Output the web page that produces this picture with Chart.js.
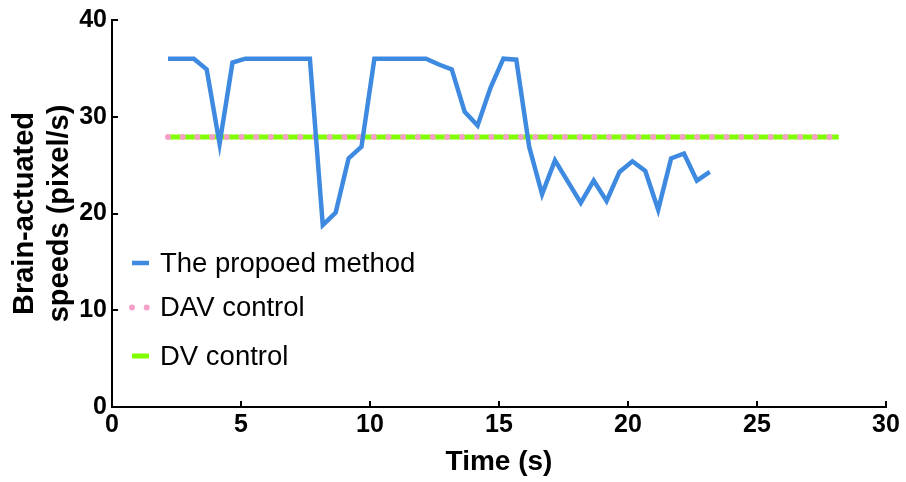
<!DOCTYPE html>
<html>
<head>
<meta charset="utf-8">
<script src="https://cdn.jsdelivr.net/npm/chart.js@4/dist/chart.umd.min.js"></script>
<style>
  html, body { margin: 0; padding: 0; background: #fff; }
  #wrap { width: 906px; height: 482px; }
</style>
</head>
<body>
<div id="wrap"><canvas id="c" width="906" height="482"></canvas></div>
<script>
// Sample times (s) and brain-actuated speed (pixel/s) of the proposed method
const times = [2.17, 2.67, 3.17, 3.67, 4.17, 4.67, 5.17, 5.67, 6.17, 6.67, 7.17, 7.67,
  8.17, 8.67, 9.17, 9.67, 10.17, 10.67, 11.17, 11.67, 12.17, 12.67, 13.17, 13.67,
  14.17, 14.67, 15.17, 15.67, 16.17, 16.67, 17.17, 17.67, 18.17, 18.67, 19.17, 19.67,
  20.17, 20.67, 21.17, 21.67, 22.17, 22.67, 23.17];
const speeds = [36, 36, 36, 34.9, 27.2, 35.6, 36, 36, 36, 36, 36, 36,
  18.8, 20.1, 25.7, 26.9, 36, 36, 36, 36, 36, 35.4, 34.9, 30.5,
  29.1, 33.0, 36.0, 35.9, 26.9, 22.0, 25.5, 23.3, 21.1, 23.4, 21.3, 24.3,
  25.4, 24.4, 20.4, 25.7, 26.2, 23.4, 24.3];

// Constant-speed reference controls
const davTimes = [2.17, 28.17];
const davSpeeds = [27.9, 27.9];
const dvTimes = [2.17, 28.17];
const dvSpeeds = [27.9, 27.9];

const seriesLabels = ['The propoed method', 'DAV control', 'DV control'];
const xTitle = 'Time (s)';
const yTitle = ['Brain-actuated', 'speeds (pixel/s)'];

const BLUE = 'rgb(62,138,224)';
const PINK = 'rgb(246,160,200)';
const GREEN = 'rgb(128,255,0)';
const FONT = '"Liberation Sans", Arial, sans-serif';

const pts = (xs, ys) => xs.map((x, i) => ({ x: x, y: ys[i] }));

// Tick marks pointing into the plot area
const inwardTicks = {
  id: 'inwardTicks',
  afterDraw(chart) {
    const ctx = chart.ctx;
    const { x, y } = chart.scales;
    const len = 6;
    ctx.save();
    ctx.strokeStyle = '#000';
    ctx.lineWidth = 2;
    ctx.beginPath();
    x.ticks.forEach(t => {
      const px = Math.round(x.getPixelForValue(t.value));
      ctx.moveTo(px, y.bottom);
      ctx.lineTo(px, y.bottom - len);
    });
    y.ticks.forEach(t => {
      const py = Math.round(y.getPixelForValue(t.value));
      ctx.moveTo(x.left, py);
      ctx.lineTo(x.left + len, py);
    });
    ctx.stroke();
    ctx.restore();
  }
};

// Legend drawn inside the plot area, lower left
const innerLegend = {
  id: 'innerLegend',
  afterDraw(chart, args, opts) {
    const ctx = chart.ctx;
    ctx.save();
    ctx.font = opts.fontSize + 'px ' + FONT;
    ctx.textBaseline = 'middle';
    ctx.textAlign = 'left';
    chart.data.datasets.forEach((ds, i) => {
      const yy = opts.rows[i];
      ctx.save();
      ctx.strokeStyle = ds.borderColor;
      ctx.lineWidth = ds.borderWidth;
      ctx.lineCap = ds.borderCapStyle || 'butt';
      ctx.setLineDash(ds.borderDash || []);
      ctx.beginPath();
      ctx.moveTo(opts.x0, yy);
      ctx.lineTo(opts.x1, yy);
      ctx.stroke();
      ctx.restore();
      ctx.fillStyle = '#000';
      ctx.fillText(ds.label, opts.textX, yy + 1);
    });
    ctx.restore();
  }
};

new Chart(document.getElementById('c'), {
  type: 'line',
  data: {
    datasets: [
      { label: seriesLabels[0], data: pts(times, speeds), borderColor: BLUE,
        borderWidth: 4.5, pointRadius: 0, tension: 0, borderJoinStyle: 'miter' },
      { label: seriesLabels[1], data: pts(davTimes, davSpeeds), borderColor: PINK,
        borderWidth: 6, borderDash: [0, 14.7], borderCapStyle: 'round', pointRadius: 0 },
      { label: seriesLabels[2], data: pts(dvTimes, dvSpeeds), borderColor: GREEN,
        borderWidth: 5, pointRadius: 0 }
    ]
  },
  options: {
    responsive: false,
    animation: false,
    devicePixelRatio: 1,
    layout: { padding: { top: 19, right: 20, left: 0, bottom: 0 } },
    plugins: {
      legend: { display: false },
      tooltip: { enabled: false },
      innerLegend: { rows: [263, 307.5, 356], x0: 132, x1: 149, textX: 160, fontSize: 27.5 }
    },
    scales: {
      x: {
        type: 'linear', min: 0, max: 30,
        grid: { display: false, drawTicks: false },
        border: { display: true, color: '#000', width: 2 },
        ticks: { stepSize: 5, color: '#000', padding: 3,
          font: { family: FONT, size: 25, weight: 'bold' } },
        title: { display: true, text: xTitle, color: '#000',
          font: { family: FONT, size: 28, weight: 'bold' }, padding: { top: 0, bottom: 2.5 } },
        afterFit(s) { s.height = 75; }
      },
      y: {
        type: 'linear', min: 0, max: 40,
        grid: { display: false, drawTicks: false },
        border: { display: true, color: '#000', width: 2 },
        ticks: { stepSize: 10, color: '#000', padding: 5,
          font: { family: FONT, size: 25, weight: 'bold' } },
        title: { display: true, text: yTitle, color: '#000',
          font: { family: FONT, size: 29, weight: 'bold' }, padding: { top: 8, bottom: 0 } },
        afterFit(s) { s.width = 112; }
      }
    }
  },
  plugins: [inwardTicks, innerLegend]
});
</script>
</body>
</html>
